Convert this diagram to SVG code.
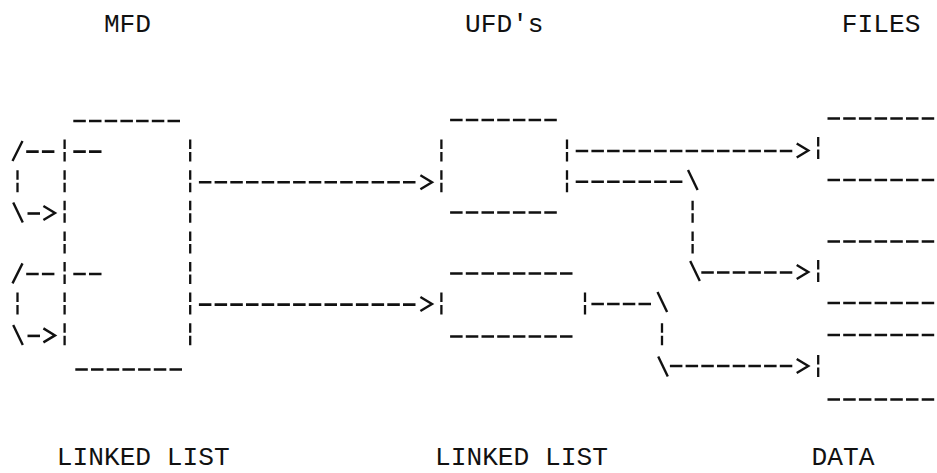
<svg xmlns="http://www.w3.org/2000/svg" xmlns:xlink="http://www.w3.org/1999/xlink" width="937" height="473" viewBox="0 0 937 473">
  <style>
    .ln { fill: none; stroke: #111; stroke-width: 2.6; stroke-linecap: butt; }
    .h { stroke-dasharray: 12.5 3.2; }
    .v { stroke-width: 2.3; stroke-dasharray: 9.5 3 9.5 8.6; }
    .mk { fill: none; stroke: #111; stroke-width: 2.4; stroke-linejoin: miter; stroke-linecap: butt; }
    text { font-family: "Liberation Mono", "DejaVu Sans Mono", monospace; font-size: 26.2px; fill: #111; }
  </style>
  <defs>
    <!-- typewriter-style glyph strokes: '>' arrowhead, '\' and '/' corners -->
    <path id="gt" d="M-5.8,-7 L5.8,0 L-5.8,7"/>
    <path id="bs" d="M-4.8,-10 L4.8,10"/>
    <path id="fs" d="M-5,10 L5,-10"/>
  </defs>
  <rect width="937" height="473" fill="#fff"/>

  <!-- column headings -->
  <g id="headings">
    <text x="103.9" y="32">MFD</text>
    <text x="465" y="31.7">UFD's</text>
    <text x="841.8" y="31.7">FILES</text>
  </g>

  <!-- MFD: one tall linked-list block -->
  <g id="mfd">
    <line class="ln h" x1="73.3" y1="121" x2="180" y2="121"/>
    <line class="ln h" x1="75.3" y1="369.5" x2="182" y2="369.5"/>
    <line class="ln v" x1="64.6" y1="139.6" x2="64.6" y2="345.2"/>
    <line class="ln v" x1="190.2" y1="139.6" x2="190.2" y2="345.2"/>
  </g>

  <!-- UFD blocks -->
  <g id="ufd1">
    <line class="ln h" x1="450.1" y1="120" x2="556.8" y2="120"/>
    <line class="ln h" x1="450.1" y1="212.5" x2="556.8" y2="212.5"/>
    <line class="ln v" x1="441.4" y1="139.6" x2="441.4" y2="192.2"/>
    <line class="ln v" x1="567" y1="139.6" x2="567" y2="192.2"/>
  </g>
  <g id="ufd2">
    <line class="ln h" x1="450.1" y1="273.5" x2="572.5" y2="273.5"/>
    <line class="ln h" x1="450.1" y1="336.5" x2="572.5" y2="336.5"/>
    <line class="ln v" x1="441.4" y1="292.6" x2="441.4" y2="314.6"/>
    <line class="ln v" x1="585" y1="292.6" x2="585" y2="314.6"/>
  </g>

  <!-- data files -->
  <g id="file1">
    <line class="ln h" x1="827.5" y1="118.5" x2="934.2" y2="118.5"/>
    <line class="ln h" x1="827.5" y1="180" x2="934.2" y2="180"/>
    <line class="ln v" x1="818.2" y1="137" x2="818.2" y2="159"/>
  </g>
  <g id="file2">
    <line class="ln h" x1="827.5" y1="241.5" x2="934.2" y2="241.5"/>
    <line class="ln h" x1="827.5" y1="303" x2="934.2" y2="303"/>
    <line class="ln v" x1="818.2" y1="260" x2="818.2" y2="282"/>
  </g>
  <g id="file3">
    <line class="ln h" x1="827.5" y1="335" x2="934.2" y2="335"/>
    <line class="ln h" x1="827.5" y1="399.5" x2="934.2" y2="399.5"/>
    <line class="ln v" x1="818.2" y1="355" x2="818.2" y2="377"/>
  </g>

  <!-- connectors -->
  <g id="connectors">
    <!-- MFD entry pointers looping back into the list -->
    <g id="loop1">
      <line class="ln h" x1="73.3" y1="151.6" x2="101.5" y2="151.6"/>
      <line class="ln h" x1="26.2" y1="151.6" x2="54.4" y2="151.6"/>
      <use xlink:href="#fs" x="17.5" y="151" class="mk"/>
      <line class="ln v" x1="17.5" y1="170.2" x2="17.5" y2="192.2"/>
      <use xlink:href="#bs" x="18" y="212.5" class="mk"/>
      <line class="ln h" x1="27.5" y1="213.5" x2="40" y2="213.5"/>
      <use xlink:href="#gt" x="49.2" y="213" class="mk"/>
    </g>
    <g id="loop2" transform="translate(0 122.4)">
      <line class="ln h" x1="73.3" y1="151.6" x2="101.5" y2="151.6"/>
      <line class="ln h" x1="26.2" y1="151.6" x2="54.4" y2="151.6"/>
      <use xlink:href="#fs" x="17.5" y="151" class="mk"/>
      <line class="ln v" x1="17.5" y1="170.2" x2="17.5" y2="192.2"/>
      <use xlink:href="#bs" x="18" y="212.5" class="mk"/>
      <line class="ln h" x1="27.5" y1="213.5" x2="40" y2="213.5"/>
      <use xlink:href="#gt" x="49.2" y="213" class="mk"/>
    </g>

    <!-- MFD to UFDs -->
    <g id="mfd-ufd1">
      <line class="ln h" x1="198.9" y1="182.2" x2="415.5" y2="182.2"/>
      <use xlink:href="#gt" x="426.2" y="182.2" class="mk"/>
    </g>
    <g id="mfd-ufd2">
      <line class="ln h" x1="198.9" y1="304.6" x2="415.5" y2="304.6"/>
      <use xlink:href="#gt" x="426.2" y="304" class="mk"/>
    </g>

    <!-- UFD 1 to files 1 and 2 -->
    <g id="ufd1-file1">
      <line class="ln h" x1="575.7" y1="151" x2="792.3" y2="151"/>
      <use xlink:href="#gt" x="802.5" y="150.5" class="mk"/>
    </g>
    <g id="ufd1-file2">
      <line class="ln h" x1="575.7" y1="181.8" x2="682.4" y2="181.8"/>
      <use xlink:href="#bs" x="692.8" y="180" class="mk"/>
      <line class="ln v" x1="692.6" y1="200.8" x2="692.6" y2="253.4"/>
      <use xlink:href="#bs" x="695" y="271" class="mk"/>
      <line class="ln h" x1="701.3" y1="272.5" x2="792.3" y2="272.5"/>
      <use xlink:href="#gt" x="802.5" y="272" class="mk"/>
    </g>

    <!-- UFD 2 to file 3 -->
    <g id="ufd2-file3">
      <line class="ln h" x1="591.4" y1="304" x2="651" y2="304"/>
      <use xlink:href="#bs" x="662.3" y="302" class="mk"/>
      <line class="ln v" x1="662" y1="323.2" x2="662" y2="345.2"/>
      <use xlink:href="#bs" x="663" y="366.5" class="mk"/>
      <line class="ln h" x1="669.9" y1="366" x2="792.3" y2="366"/>
      <use xlink:href="#gt" x="802.5" y="366" class="mk"/>
    </g>
  </g>

  <!-- column captions -->
  <g id="captions">
    <text x="56.8" y="464.5">LINKED LIST</text>
    <text x="435" y="464.5">LINKED LIST</text>
    <text x="811.5" y="464.5">DATA</text>
  </g>
</svg>
